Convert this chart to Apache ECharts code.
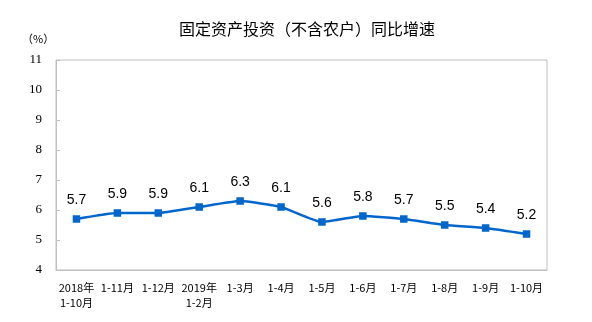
<!DOCTYPE html>
<html><head><meta charset="utf-8">
<script src="https://cdn.jsdelivr.net/npm/echarts@6/dist/echarts.min.js"></script>
<style>html,body{margin:0;padding:0;background:#fff}#c{width:592px;height:322px}</style>
</head><body><div id="c"></div>
<script>
const categories = ['2018年\n1-10月','1-11月','1-12月','2019年\n1-2月','1-3月','1-4月','1-5月','1-6月','1-7月','1-8月','1-9月','1-10月'];
const values = [5.7, 5.9, 5.9, 6.1, 6.3, 6.1, 5.6, 5.8, 5.7, 5.5, 5.4, 5.2];
const titleText = '固定资产投资（不含农户）同比增速';
const unitText = '（%）';

const chart = echarts.init(document.getElementById('c'), null, {renderer:'canvas'});
chart.setOption({
  animation: false,
  title: {
    text: titleText, left: 302, top: 16, textAlign: 'center',
    textStyle: {fontFamily: '"Noto Sans CJK SC"', fontSize: 16, fontWeight: 'normal', color: '#000'}
  },
  graphic: [{
    type: 'text', left: 22, top: 33,
    style: {text: unitText, font: '11px "Noto Sans CJK SC"', fill: '#000'}
  }, {
    type: 'rect', shape: {x: 56, y: 60, width: 491, height: 210},
    style: {fill: 'none', stroke: '#bfbfbf', lineWidth: 1}, z: -1
  }],
  grid: {left: 56, right: 45, top: 60, bottom: 52},
  xAxis: {
    type: 'category', data: categories, boundaryGap: true,
    axisLine: {lineStyle: {color: '#bfbfbf', width: 1}},
    axisTick: {inside: true, length: 4, lineStyle: {color: '#bfbfbf'}},
    axisLabel: {interval: 0, color: '#000', fontFamily: '"Noto Sans CJK SC"', fontSize: 11, lineHeight: 15, margin: 10}
  },
  yAxis: {
    type: 'value', min: 4, max: 11, interval: 1,
    splitLine: {show: false},
    axisLine: {show: true, lineStyle: {color: '#bfbfbf', width: 1}},
    axisTick: {show: true, inside: true, length: 4, lineStyle: {color: '#bfbfbf'}},
    axisLabel: {color: '#000', fontFamily: '"Liberation Serif"', fontSize: 13, margin: 14}
  },
  series: [{
    type: 'line', data: values, smooth: 0.15,
    symbol: 'rect', symbolSize: 7.5,
    lineStyle: {color: '#0066cc', width: 2.5},
    itemStyle: {color: '#0066cc'},
    label: {show: true, position: 'top', distance: 8, color: '#000',
      fontFamily: '"Liberation Sans"', fontSize: 14,
      formatter: p => p.value.toFixed(1)}
  }]
});
</script></body></html>
